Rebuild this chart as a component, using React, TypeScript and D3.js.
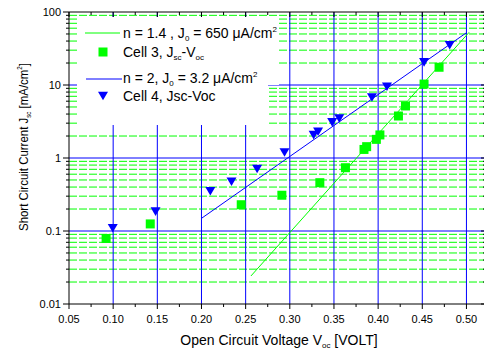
import React from "react";
import * as d3 from "d3";

// ---- data ----
const xMajorTicks = [0.05, 0.1, 0.15, 0.2, 0.25, 0.3, 0.35, 0.4, 0.45, 0.5];
const xTickLabels = ["0.05", "0.10", "0.15", "0.20", "0.25", "0.30", "0.35", "0.40", "0.45", "0.50"];
const yMajorTicks = [0.01, 0.1, 1, 10, 100];
const yTickLabels = ["0.01", "0.1", "1", "10", "100"];

const cell3Voc = [0.092, 0.142, 0.245, 0.291, 0.334, 0.363, 0.384, 0.387, 0.398, 0.402, 0.423, 0.431, 0.452, 0.469];
const cell3Jsc = [0.079, 0.125, 0.229, 0.309, 0.459, 0.736, 1.31, 1.43, 1.8, 2.07, 3.76, 5.16, 10.3, 17.5];

const cell4Voc = [0.0995, 0.148, 0.21, 0.234, 0.263, 0.294, 0.327, 0.332, 0.348, 0.356, 0.393, 0.41, 0.452, 0.481];
const cell4Jsc = [0.109, 0.184, 0.35, 0.473, 0.707, 1.19, 2.06, 2.29, 3.08, 3.47, 6.75, 9.48, 20.4, 35.0];

const fitN14Voc = [0.256, 0.503];
const fitN14Jsc = [0.0242, 52.7];
const fitN2Voc = [0.2, 0.5];
const fitN2Jsc = [0.149, 52.0];

const W = 484;
const H = 352;
const FONT = "'Liberation Sans', Arial, sans-serif";
const GREEN = "#00ff00";
const BLUE = "#0000ff";

export default function App() {
  const x = d3.scaleLinear().domain([0.05, 0.521]).range([69, 485]);
  const y = d3.scaleLog().domain([0.01, 100]).range([304, 12]);
  const [x0, x1] = x.range();
  const [y0, y1] = y.range();

  const xMinor = d3.range(0, 9).map((i) => 0.075 + i * 0.05);
  const yMinor: number[] = [];
  [0.01, 0.1, 1, 10].forEach((d) => {
    for (let k = 2; k <= 9; k++) yMinor.push(d * k);
  });

  const line = d3
    .line<[number, number]>()
    .x((d) => x(d[0]))
    .y((d) => y(d[1]));

  const fit14 = fitN14Voc.map((v, i) => [v, fitN14Jsc[i]] as [number, number]);
  const fit2 = fitN2Voc.map((v, i) => [v, fitN2Jsc[i]] as [number, number]);

  const tri = (cx: number, cy: number) =>
    `M${cx - 5},${cy - 4.3}L${cx + 5},${cy - 4.3}L${cx},${cy + 4.3}Z`;

  return (
    <svg
      width={W}
      height={H}
      style={{ position: "absolute", left: 0, top: 0, background: "#fff" }}
      fontFamily={FONT}
    >
      <rect x={0} y={0} width={W} height={H} fill="#fff" />
      {/* minor horizontal grid (green dashed) */}
      {yMinor.map((v, i) => (
        <line key={"gm" + i} x1={x0} x2={x1} y1={y(v)} y2={y(v)} stroke={GREEN} strokeWidth={1} strokeDasharray="8,2" />
      ))}
      {/* major horizontal grid (blue) */}
      {[0.1, 1, 10].map((v, i) => (
        <line key={"gh" + i} x1={x0} x2={x1} y1={y(v)} y2={y(v)} stroke={BLUE} strokeWidth={1} />
      ))}
      {/* major vertical grid (blue) */}
      {xMajorTicks.slice(1).map((v, i) => (
        <line key={"gv" + i} x1={x(v)} x2={x(v)} y1={y1} y2={y0} stroke={BLUE} strokeWidth={1} />
      ))}

      {/* legend background */}
      <rect x={77} y={17} width={202} height={68} fill="#fff" />
      <rect x={77} y={85} width={191} height={40} fill="#fff" />

      {/* fit lines */}
      <path d={line(fit14) || ""} fill="none" stroke={GREEN} strokeWidth={1} />
      <path d={line(fit2) || ""} fill="none" stroke={BLUE} strokeWidth={1} />

      {/* data */}
      {cell3Voc.map((v, i) => (
        <rect key={"c3" + i} x={x(v) - 4.5} y={y(cell3Jsc[i]) - 4.5} width={9} height={9} fill={GREEN} />
      ))}
      {cell4Voc.map((v, i) => (
        <path key={"c4" + i} d={tri(x(v), y(cell4Jsc[i]))} fill={BLUE} />
      ))}

      {/* axes frame */}
      <line x1={x0} x2={x0} y1={y1} y2={y0} stroke="#000" strokeWidth={1} />
      <line x1={x0} x2={x1} y1={y0} y2={y0} stroke="#000" strokeWidth={1} />
      <line x1={x0} x2={x1} y1={y1} y2={y1} stroke="#000" strokeWidth={1} />
      <line x1={x1} x2={x1} y1={y1} y2={y0} stroke="#000" strokeWidth={1} />

      {/* x ticks bottom (outward) and top (inward) */}
      {xMajorTicks.map((v, i) => (
        <g key={"xt" + i}>
          <line x1={x(v)} x2={x(v)} y1={y0} y2={y0 + 5} stroke="#000" />
          <line x1={x(v)} x2={x(v)} y1={y1} y2={y1 + 5} stroke="#000" />
          <text x={x(v)} y={y0 + 19} fontSize={11} textAnchor="middle" fill="#000">
            {xTickLabels[i]}
          </text>
        </g>
      ))}
      {xMinor.map((v, i) => (
        <g key={"xm" + i}>
          <line x1={x(v)} x2={x(v)} y1={y0} y2={y0 + 3} stroke="#000" />
          <line x1={x(v)} x2={x(v)} y1={y1} y2={y1 + 3} stroke="#000" />
        </g>
      ))}

      {/* y ticks left (outward) and right (inward) */}
      {yMajorTicks.map((v, i) => (
        <g key={"yt" + i}>
          <line x1={x0 - 6} x2={x0} y1={y(v)} y2={y(v)} stroke="#000" />
          <line x1={x1 - 4} x2={x1} y1={y(v)} y2={y(v)} stroke="#000" />
          <text x={x0 - 8} y={y(v) + 4} fontSize={11} textAnchor="end" fill="#000">
            {yTickLabels[i]}
          </text>
        </g>
      ))}
      {yMinor.map((v, i) => (
        <g key={"ym" + i}>
          <line x1={x0 - 3} x2={x0} y1={y(v)} y2={y(v)} stroke="#000" />
          <line x1={x1 - 2} x2={x1} y1={y(v)} y2={y(v)} stroke="#000" />
        </g>
      ))}

      {/* axis titles */}
      <text x={279} y={345} fontSize={14} textAnchor="middle" fill="#000">
        Open Circuit Voltage V
        <tspan fontSize={8} dy={3}>oc</tspan>
        <tspan dy={-3}> [VOLT]</tspan>
      </text>
      <text
        transform="translate(28,147) rotate(-90)"
        fontSize={13}
        textAnchor="middle"
        fill="#000"
        textLength={168}
        lengthAdjust="spacingAndGlyphs"
      >
        Short Circuit Current J
        <tspan fontSize={7} dy={3}>sc</tspan>
        <tspan dy={-3}> [mA/cm</tspan>
        <tspan fontSize={7} dy={-6}>2</tspan>
        <tspan dy={6}>]</tspan>
      </text>

      {/* legend */}
      <line x1={85} x2={120} y1={33} y2={33} stroke={GREEN} strokeWidth={1} />
      <text x={123} y={38} fontSize={14} fill="#000">
        n = 1.4 , J<tspan fontSize={8} dy={3}>0</tspan>
        <tspan dy={-3}> = 650 μA/cm</tspan>
        <tspan fontSize={8} dy={-6}>2</tspan>
      </text>
      <rect x={103 - 4.5} y={52 - 4.5} width={9} height={9} fill={GREEN} />
      <text x={123} y={57} fontSize={14} fill="#000">
        Cell 3, J<tspan fontSize={8} dy={3}>sc</tspan>
        <tspan dy={-3}>-V</tspan>
        <tspan fontSize={8} dy={3}>oc</tspan>
      </text>
      <line x1={86} x2={122} y1={79} y2={79} stroke={BLUE} strokeWidth={1} />
      <text x={123} y={83} fontSize={14} fill="#000">
        n = 2, J<tspan fontSize={8} dy={3}>0</tspan>
        <tspan dy={-3}> = 3.2 μA/cm</tspan>
        <tspan fontSize={8} dy={-6}>2</tspan>
      </text>
      <path d={tri(103, 96)} fill={BLUE} />
      <text x={123} y={101} fontSize={14} fill="#000">
        Cell 4, Jsc-Voc
      </text>
    </svg>
  );
}
